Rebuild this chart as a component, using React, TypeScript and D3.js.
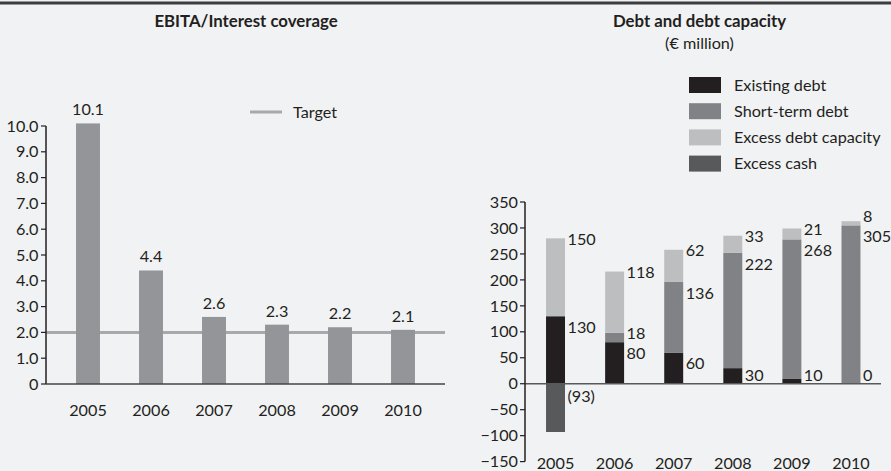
import * as d3 from 'd3'

const years = ['2005', '2006', '2007', '2008', '2009', '2010']

// EBITA / interest coverage (multiple)
const coverage = [10.1, 4.4, 2.6, 2.3, 2.2, 2.1]
const coverageTarget = 2.0
const coverageTicks = [0, 1, 2, 3, 4, 5, 6, 7, 8, 9, 10]

// Debt and debt capacity (€ million)
const existingDebt = [130, 80, 60, 30, 10, 0]
const shortTermDebt = [0, 18, 136, 222, 268, 305]
const excessCapacity = [150, 118, 62, 33, 21, 8]
const excessCash = [-93, 0, 0, 0, 0, 0]
const debtTicks = [-150, -100, -50, 0, 50, 100, 150, 200, 250, 300, 350]

const legendItems = [
  { label: 'Existing debt', color: '#231f20' },
  { label: 'Short-term debt', color: '#808285' },
  { label: 'Excess debt capacity', color: '#bcbec0' },
  { label: 'Excess cash', color: '#58595b' },
]

const W = 891
const H = 471
const ink = '#231f20'
const font = 'Lato, "Open Sans", sans-serif'
const fs = 16.2

export default function App() {
  // left chart
  const yL = d3.scaleLinear().domain([0, 10]).range([384, 126])
  const xL = d3.scaleBand<string>().domain(years).range([56.5, 434.5]).paddingInner(0.62).paddingOuter(0.31)
  const fmtL = (d: number) => (d === 0 ? '0' : d.toFixed(1))

  // right chart
  const yR = d3.scaleLinear().domain([-150, 350]).range([461.6, 202])
  const xR = d3.scaleBand<string>().domain(years).range([525.95, 880.55]).paddingInner(0.679).paddingOuter(0.34)
  const fmtR = (d: number) => (d < 0 ? '\u2212' + Math.abs(d) : String(d))

  const stacks = years.map((yr, i) => {
    const e = existingDebt[i]
    const s = shortTermDebt[i]
    const c = excessCapacity[i]
    const segs = [
      { key: 'e', y0: 0, y1: e, color: legendItems[0].color },
      { key: 's', y0: e, y1: e + s, color: legendItems[1].color },
      { key: 'c', y0: e + s, y1: e + s + c, color: legendItems[2].color },
      { key: 'x', y0: excessCash[i], y1: 0, color: legendItems[3].color },
    ]
    // labels: top to bottom, nudged apart
    const items: { text: string; top: number }[] = []
    if (c !== 0) items.push({ text: String(c), top: e + s + c })
    if (s !== 0) items.push({ text: String(s), top: e + s })
    items.push({ text: String(e), top: e })
    const zeroY = yR(0)
    const centers = items.map((it, k) => Math.min(yR(it.top) + (k === 0 ? 1 : 11), zeroY - 8))
    for (let k = centers.length - 2; k >= 0; k--) centers[k] = Math.min(centers[k], centers[k + 1] - 20)
    const labels = items.map((it, k) => ({ text: it.text, y: centers[k] }))
    if (excessCash[i] < 0) labels.push({ text: `(${Math.abs(excessCash[i])})`, y: zeroY + 13 })
    return { yr, segs, labels }
  })

  return (
    <svg width={W} height={H} style={{ position: 'absolute', left: 0, top: 0 }} fontFamily={font} fill={ink}>
      <rect x={0} y={0} width={W} height={H} fill="#f1f2f4" />
      <rect x={0} y={1.5} width={W} height={3} fill="#3c3c3e" />

      {/* ---------- left: EBITA/Interest coverage ---------- */}
      <text x={246} y={27} textAnchor="middle" fontWeight="bold" fontSize={16.8}>EBITA/Interest coverage</text>

      <line x1={46} x2={445} y1={yL(coverageTarget)} y2={yL(coverageTarget)} stroke="#a7a9ac" strokeWidth={3} />
      {years.map((yr, i) => (
        <g key={yr}>
          <rect x={xL(yr)} y={yL(coverage[i])} width={xL.bandwidth()} height={yL(0) - yL(coverage[i])} fill="#939598" />
          <text x={(xL(yr) || 0) + xL.bandwidth() / 2} y={yL(coverage[i]) - 8} textAnchor="middle" fontSize={fs}>
            {coverage[i].toFixed(1)}
          </text>
          <text x={(xL(yr) || 0) + xL.bandwidth() / 2} y={416} textAnchor="middle" fontSize={fs}>{yr}</text>
        </g>
      ))}
      <line x1={46} x2={46} y1={yL(10)} y2={yL(0)} stroke={ink} strokeWidth={1.5} />
      <line x1={46} x2={445} y1={yL(0)} y2={yL(0)} stroke="#444" strokeWidth={1.5} />
      {coverageTicks.map((t) => (
        <g key={t}>
          <line x1={41} x2={46} y1={yL(t)} y2={yL(t)} stroke={ink} strokeWidth={1.2} />
          <text x={38.5} y={yL(t)} dy="0.35em" textAnchor="end" fontSize={fs}>{fmtL(t)}</text>
        </g>
      ))}
      <line x1={250} x2={282} y1={112} y2={112} stroke="#a7a9ac" strokeWidth={3} />
      <text x={293} y={112} dy="0.35em" fontSize={fs}>Target</text>

      {/* ---------- right: Debt and debt capacity ---------- */}
      <text x={699.5} y={27} textAnchor="middle" fontWeight="bold" fontSize={16.8}>Debt and debt capacity</text>
      <text x={699.5} y={49} textAnchor="middle" fontSize={fs}>(€ million)</text>

      {legendItems.map((it, i) => (
        <g key={it.label}>
          <rect x={689} y={77 + i * 26.2} width={32} height={16} fill={it.color} />
          <text x={734} y={85 + i * 26.2} dy="0.35em" fontSize={fs}>{it.label}</text>
        </g>
      ))}

      {stacks.map((st) => (
        <g key={st.yr}>
          {st.segs.filter((s) => s.y1 !== s.y0).map((s) => (
            <rect key={s.key} x={xR(st.yr)} y={yR(s.y1)} width={xR.bandwidth()} height={yR(s.y0) - yR(s.y1)} fill={s.color} />
          ))}
          {st.labels.map((l, k) => (
            <text key={k} x={(xR(st.yr) || 0) + xR.bandwidth() + 2.5} y={l.y} dy="0.35em" fontSize={fs}>{l.text}</text>
          ))}
          <text x={(xR(st.yr) || 0) + xR.bandwidth() / 2} y={469} textAnchor="middle" fontSize={fs}>{st.yr}</text>
        </g>
      ))}
      <line x1={525} x2={881} y1={yR(0)} y2={yR(0)} stroke="#58595b" strokeWidth={1.5} />
      <line x1={525} x2={525} y1={yR(350)} y2={yR(-150)} stroke={ink} strokeWidth={1.5} />
      {debtTicks.map((t) => (
        <g key={t}>
          <line x1={520} x2={525} y1={yR(t)} y2={yR(t)} stroke={ink} strokeWidth={1.2} />
          <text x={518} y={yR(t)} dy="0.35em" textAnchor="end" fontSize={fs}>{fmtR(t)}</text>
        </g>
      ))}
    </svg>
  )
}
